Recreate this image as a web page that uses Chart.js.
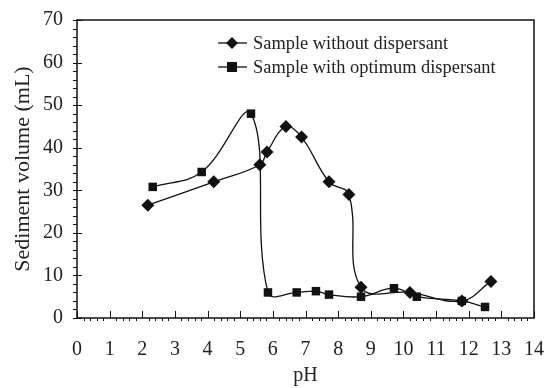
<!DOCTYPE html>
<html>
<head>
<meta charset="utf-8">
<script src="https://cdn.jsdelivr.net/npm/chart.js@4"></script>
<style>
  html, body { margin: 0; padding: 0; background: #fff; }
  #wrap { width: 548px; height: 388px; }
</style>
</head>
<body>
<div id="wrap"><canvas id="chart" width="548" height="388"></canvas></div>
<script>
// data
const withoutPH = [2.17, 4.19, 5.6, 5.82, 6.4, 6.88, 7.72, 8.33, 8.7, 10.2, 11.79, 12.68];
const withoutVol = [26.5, 32, 36, 39, 45, 42.5, 32, 29, 7.2, 6, 4, 8.6];
const withPH = [2.32, 3.82, 5.33, 5.85, 6.73, 7.32, 7.72, 8.7, 9.71, 10.41, 11.79, 12.5];
const withVol = [30.8, 34.3, 48, 6, 6, 6.3, 5.5, 5, 7, 5, 4, 2.6];
const seriesNames = ['Sample without dispersant', 'Sample with optimum dispersant'];
const xTicks = [0, 1, 2, 3, 4, 5, 6, 7, 8, 9, 10, 11, 12, 13, 14];
const yTicks = [0, 10, 20, 30, 40, 50, 60, 70];

const font = '"Liberation Serif", "Times New Roman", serif';

function toPoints(xs, ys) {
  return xs.map((x, i) => ({ x: x, y: ys[i] }));
}

// frame, minor/major ticks and legend
const decorPlugin = {
  id: 'decor',
  afterDraw(chart) {
    const ctx = chart.ctx;
    const a = chart.chartArea;
    const xs = chart.scales.x, ys = chart.scales.y;
    ctx.save();
    ctx.strokeStyle = '#111';
    ctx.lineWidth = 1.5;
    ctx.strokeRect(a.left, a.top, a.right - a.left, a.bottom - a.top);

    ctx.lineWidth = 1;
    ctx.beginPath();
    for (let v = 0; v <= 14.001; v += 0.2) {
      const px = Math.round(xs.getPixelForValue(v)) + 0.5;
      const major = Math.abs(v - Math.round(v)) < 0.01;
      if (major) {
        ctx.moveTo(px, a.bottom - 7);
        ctx.lineTo(px, a.bottom);
      } else {
        ctx.moveTo(px, a.bottom);
        ctx.lineTo(px, a.bottom + 3);
      }
    }
    for (let v = 0; v <= 70.001; v += 2) {
      const py = Math.round(ys.getPixelForValue(v)) + 0.5;
      const major = v % 10 === 0;
      ctx.moveTo(a.left - 4, py);
      ctx.lineTo(a.left + (major ? 5 : 0), py);
    }
    ctx.stroke();

    // legend
    const lx = 218, ly = [43, 67];
    ctx.font = '18.4px ' + font;
    ctx.textBaseline = 'middle';
    chart.data.datasets.forEach((ds, i) => {
      const y = ly[i];
      ctx.strokeStyle = '#111';
      ctx.lineWidth = 1.3;
      ctx.beginPath();
      ctx.moveTo(lx, y);
      ctx.lineTo(lx + 29, y);
      ctx.stroke();
      ctx.fillStyle = '#111';
      ctx.beginPath();
      if (i === 0) {
        ctx.moveTo(lx + 14, y - 6);
        ctx.lineTo(lx + 20, y);
        ctx.lineTo(lx + 14, y + 6);
        ctx.lineTo(lx + 8, y);
        ctx.closePath();
      } else {
        ctx.rect(lx + 9, y - 5, 10, 10);
      }
      ctx.fill();
      ctx.fillStyle = '#222';
      ctx.fillText(ds.label, lx + 35, y + 1);
    });
    ctx.restore();
  }
};

new Chart(document.getElementById('chart'), {
  type: 'scatter',
  data: {
    datasets: [
      {
        label: seriesNames[0],
        data: toPoints(withoutPH, withoutVol),
        showLine: true,
        borderColor: '#111',
        backgroundColor: '#111',
        borderWidth: 1.3,
        pointStyle: 'rectRot',
        pointRadius: 6.5,
        pointBorderWidth: 0,
        tension: 0.4
      },
      {
        label: seriesNames[1],
        data: toPoints(withPH, withVol),
        showLine: true,
        borderColor: '#111',
        backgroundColor: '#111',
        borderWidth: 1.3,
        pointStyle: 'rect',
        pointRadius: 6,
        pointBorderWidth: 0,
        tension: 0.4
      }
    ]
  },
  options: {
    responsive: false,
    animation: false,
    layout: { padding: { left: 0, top: 20, right: 14, bottom: 0 } },
    plugins: { legend: { display: false }, tooltip: { enabled: false } },
    scales: {
      x: {
        type: 'linear',
        min: 0,
        max: 14,
        afterBuildTicks: s => { s.ticks = xTicks.map(v => ({ value: v })); },
        afterFit: s => { s.height = 70; s.paddingLeft = 0; s.paddingRight = 0; },
        grid: { display: false, drawTicks: false },
        border: { display: false },
        ticks: { color: '#222', font: { family: font, size: 20 }, padding: 20, maxRotation: 0 },
        title: { display: true, text: 'pH', color: '#222', font: { family: font, size: 20 }, padding: { top: 0, bottom: 0 } }
      },
      y: {
        type: 'linear',
        min: 0,
        max: 70,
        afterBuildTicks: s => { s.ticks = yTicks.map(v => ({ value: v })); },
        afterFit: s => { s.width = 77; s.paddingTop = 0; s.paddingBottom = 0; },
        grid: { display: false, drawTicks: false },
        border: { display: false },
        ticks: { color: '#222', font: { family: font, size: 20 }, padding: 14 },
        title: { display: true, text: 'Sediment volume (mL)', color: '#222', font: { family: font, size: 22 }, padding: { top: 10, bottom: 0 } }
      }
    }
  },
  plugins: [decorPlugin]
});
</script>
</body>
</html>
